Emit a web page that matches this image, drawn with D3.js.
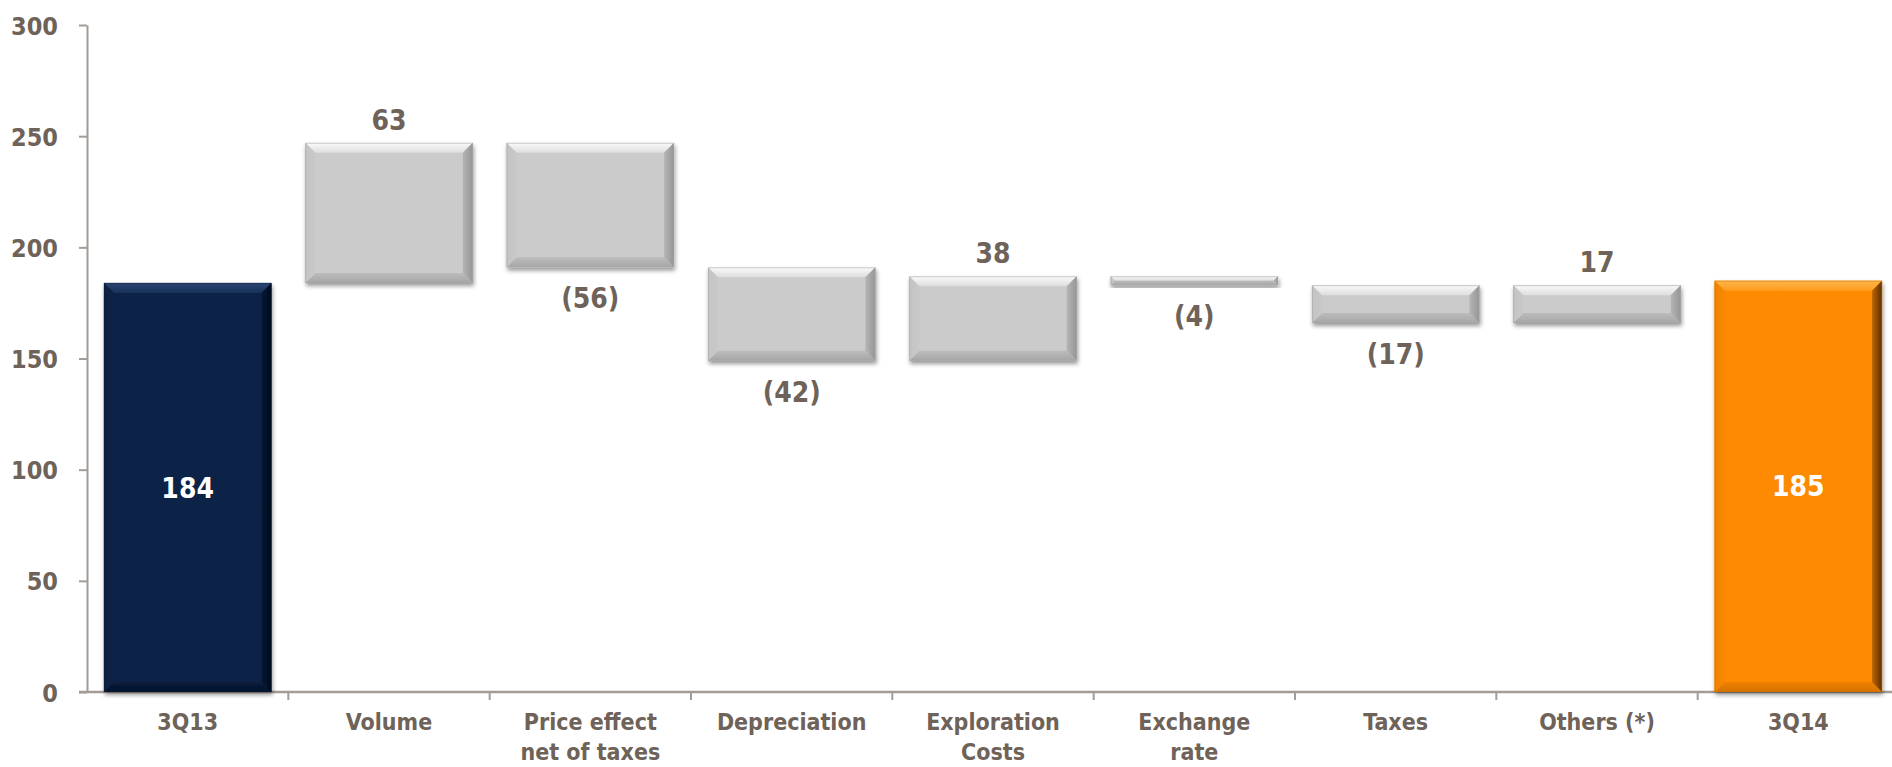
<!DOCTYPE html>
<html>
<head>
<meta charset="utf-8">
<script src="https://cdnjs.cloudflare.com/ajax/libs/d3/7.8.5/d3.min.js"></script>
<style>
  html, body { margin: 0; padding: 0; background: #fff; }
  svg { display: block; }
  text { font-family: "DejaVu Sans Condensed", "Liberation Sans Narrow", "Roboto", sans-serif; font-weight: bold; }
</style>
</head>
<body>
<svg id="chart" width="1892" height="767"></svg>
<script>
// waterfall: 3Q13 -> 3Q14

const categories = ['3Q13', 'Volume', 'Price effect|net of taxes', 'Depreciation', 'Exploration|Costs', 'Exchange|rate', 'Taxes', 'Others (*)', '3Q14'];
const values = [184, 63, -56, -42, 38, -4, -17, 17, 185];
const kinds = ['total', 'delta', 'delta', 'delta', 'delta', 'delta', 'delta', 'delta', 'total'];
const valueLabels = ['184', '63', '(56)', '(42)', '38', '(4)', '(17)', '17', '185'];
const yTicks = [0, 50, 100, 150, 200, 250, 300];

const textCol = '#6e6259';
const axisCol = '#a39b95';

const schemes = {
    start: {base: '#0b2447', top: '#2b4672', left: '#0a2142', right: '#020a18', bottom: '#04122a'},
    delta: {base: '#cbcbcb', top: '#fafafa', left: '#c4c4c4', right: '#959595', bottom: '#a6a6a6'},
    end:   {base: '#fd8a03', top: '#ffb649', left: '#f08400', right: '#5a2e00', bottom: '#d47200'}
};

const svg = d3.select('#chart');
const x0 = 87, x1 = 1899, yTop = 25, yBot = 692;

const x = d3.scaleBand().domain(categories).range([x0, x1]).paddingInner(0.168).paddingOuter(0.084);
const y = d3.scaleLinear().domain([0, 300]).range([yBot, yTop]);

// running totals
let run = 0;
const bars = categories.map((c, i) => {
    let lo, hi;
    if (kinds[i] === 'total') { lo = 0; hi = values[i]; run = values[i]; }
    else { const prev = run; run += values[i]; lo = Math.min(prev, run); hi = Math.max(prev, run); }
    const scheme = kinds[i] === 'delta' ? 'delta' : (i === 0 ? 'start' : 'end');
    return {c, i, lo, hi, v: values[i], kind: kinds[i], label: valueLabels[i], scheme};
});

// defs: shadow + bevel gradients
const defs = svg.append('defs');
const f = defs.append('filter').attr('id', 'shadow').attr('x', '-10%').attr('y', '-10%').attr('width', '130%').attr('height', '140%');
f.append('feDropShadow').attr('dx', 1).attr('dy', 3).attr('stdDeviation', 2)
    .attr('flood-color', '#000').attr('flood-opacity', 0.4);

const sides = {top: [0, 0, 0, 1], bottom: [0, 1, 0, 0], left: [0, 0, 1, 0], right: [1, 0, 0, 0]};
Object.entries(schemes).forEach(([k, s]) => {
    Object.entries(sides).forEach(([side, v]) => {
        const g = defs.append('linearGradient').attr('id', `g-${k}-${side}`)
            .attr('x1', v[0]).attr('y1', v[1]).attr('x2', v[2]).attr('y2', v[3]);
        g.append('stop').attr('offset', '0%').attr('stop-color', s[side]);
        g.append('stop').attr('offset', '100%').attr('stop-color', d3.interpolateRgb(s[side], s.base)(0.6));
    });
});

// y axis
const yAxis = svg.append('g').attr('transform', `translate(${x0},0)`)
    .call(d3.axisLeft(y).tickValues(yTicks).tickSize(8).tickPadding(21).tickSizeOuter(0));
yAxis.select('.domain').attr('stroke', axisCol).attr('stroke-width', 2);
yAxis.selectAll('.tick line').attr('stroke', axisCol).attr('stroke-width', 2);
yAxis.selectAll('.tick text').attr('fill', textCol).style('font-size', '25px').attr('dy', '0.36em');

// x axis line + separators
svg.append('line').attr('x1', x0 - 8).attr('x2', x1).attr('y1', yBot).attr('y2', yBot)
    .attr('stroke', axisCol).attr('stroke-width', 2.5);
const step = x.step();
svg.selectAll('.sep').data(categories).join('line').attr('class', 'sep')
    .attr('x1', d => x(d) - x.paddingInner() * step / 2 + step)
    .attr('x2', d => x(d) - x.paddingInner() * step / 2 + step)
    .attr('y1', yBot).attr('y2', yBot + 8)
    .attr('stroke', axisCol).attr('stroke-width', 2);

// bars
const barG = svg.append('g');
bars.forEach(d => {
    const bx = x(d.c), bw = x.bandwidth();
    const by = y(d.hi), bh = y(d.lo) - y(d.hi);
    const b = Math.min(10, bh / 2, bw / 2);
    const s = schemes[d.scheme];
    const g = barG.append('g').attr('filter', 'url(#shadow)');
    g.append('rect').attr('x', bx).attr('y', by).attr('width', bw).attr('height', bh).attr('fill', s.base);
    const polys = {
        top:    [[bx, by], [bx + bw, by], [bx + bw - b, by + b], [bx + b, by + b]],
        bottom: [[bx, by + bh], [bx + bw, by + bh], [bx + bw - b, by + bh - b], [bx + b, by + bh - b]],
        left:   [[bx, by], [bx + b, by + b], [bx + b, by + bh - b], [bx, by + bh]],
        right:  [[bx + bw, by], [bx + bw - b, by + b], [bx + bw - b, by + bh - b], [bx + bw, by + bh]]
    };
    Object.entries(polys).forEach(([side, pts]) => {
        g.append('polygon').attr('points', pts.map(p => p.join(',')).join(' '))
            .attr('fill', `url(#g-${d.scheme}-${side})`);
    });
    // thin rim
    g.append('rect').attr('x', bx + 0.5).attr('y', by + 0.5).attr('width', bw - 1).attr('height', Math.max(0, bh - 1))
        .attr('fill', 'none').attr('stroke', d3.color(s.base).darker(0.6)).attr('stroke-opacity', 0.5).attr('stroke-width', 1);
});

// value labels
svg.selectAll('.val').data(bars).join('text').attr('class', 'val')
    .attr('x', d => x(d.c) + x.bandwidth() / 2)
    .attr('y', d => d.kind === 'total' ? (y(d.lo) + y(d.hi)) / 2 : (d.v >= 0 ? y(d.hi) - 23 : y(d.lo) + 31))
    .attr('dy', '0.36em')
    .attr('text-anchor', 'middle')
    .attr('fill', d => d.kind === 'total' ? '#fff' : textCol)
    .style('font-size', '28px')
    .text(d => d.label);

// category labels
const catG = svg.selectAll('.cat').data(categories).join('text').attr('class', 'cat')
    .attr('x', d => x(d) + x.bandwidth() / 2)
    .attr('y', 723)
    .attr('text-anchor', 'middle')
    .attr('fill', textCol)
    .style('font-size', '23px');
catG.each(function(d){
    const t = d3.select(this);
    d.split('|').forEach((ln, k) => {
        t.append('tspan').attr('x', x(d) + x.bandwidth() / 2)
            .attr('y', 722 + k * 30).attr('dy', '0.36em').text(ln);
    });
});
</script>
</body>
</html>
